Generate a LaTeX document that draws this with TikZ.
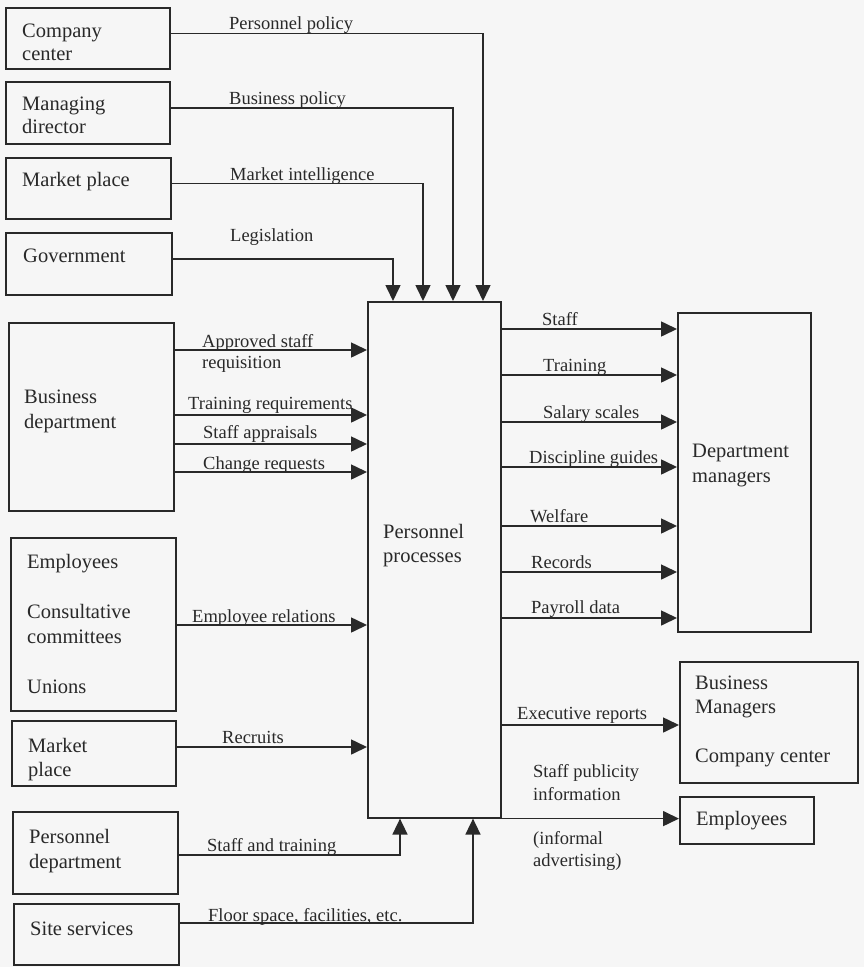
\documentclass[tikz,border=0pt]{standalone}
\usepackage{fontspec}
\setmainfont{Liberation Serif}
\usetikzlibrary{arrows.meta}
\definecolor{ink}{rgb}{0.16,0.16,0.16}
\definecolor{paper}{rgb}{0.965,0.965,0.965}
\tikzset{
  box/.style={draw=ink, line width=1.6pt, anchor=north west, inner sep=0pt},
  bt/.style={anchor=base west, inner sep=0pt, text=ink, font=\fontsize{20.5}{24}\selectfont},
  lt/.style={anchor=base west, inner sep=0pt, text=ink, font=\fontsize{18.5}{22}\selectfont},
  arr/.style={draw=ink, line width=1.6pt, -{Triangle[length=16pt,width=15pt]}},
}
\begin{document}
\begin{tikzpicture}[x=1pt,y=-1pt]
\fill[paper] (0,0) rectangle (864,967);
\useasboundingbox (0,0) rectangle (864,967);
% boxes
\node[box, minimum width=164pt, minimum height=61pt] (cc) at (5,7) {};
\node[box, minimum width=164pt, minimum height=62pt] (md) at (5,81) {};
\node[box, minimum width=165pt, minimum height=61pt] (mp) at (5,157) {};
\node[box, minimum width=166pt, minimum height=62pt] (gov) at (5,232) {};
\node[box, minimum width=165pt, minimum height=188pt] (bd) at (8,322) {};
\node[box, minimum width=165pt, minimum height=173pt] (emp) at (10,537) {};
\node[box, minimum width=164pt, minimum height=65pt] (mp2) at (11,720) {};
\node[box, minimum width=165pt, minimum height=82pt] (pd) at (12,811) {};
\node[box, minimum width=165pt, minimum height=61pt] (ss) at (13,903) {};
\node[box, minimum width=133pt, minimum height=516pt] (pp) at (367,301) {};
\node[box, minimum width=133pt, minimum height=319pt] (dm) at (677,312) {};
\node[box, minimum width=178pt, minimum height=121pt] (bm) at (679,661) {};
\node[box, minimum width=134pt, minimum height=47pt] (em) at (679,796) {};
% box texts
\node[bt] (tcc1) at (22,37) {Company};
\node[bt] (tcc2) at (22,60) {center};
\node[bt] (tmd1) at (22,110) {Managing};
\node[bt] (tmd2) at (22,133) {director};
\node[bt] (tmp) at (22,186) {Market place};
\node[bt] (tgov) at (23,262) {Government};
\node[bt] (tbd1) at (24,403) {Business};
\node[bt] (tbd2) at (24,428) {department};
\node[bt] (temp1) at (27,568) {Employees};
\node[bt] (temp2) at (27,618) {Consultative};
\node[bt] (temp3) at (27,643) {committees};
\node[bt] (temp4) at (27,693) {Unions};
\node[bt] (tmp21) at (28,752) {Market};
\node[bt] (tmp22) at (28,776) {place};
\node[bt] (tpd1) at (29,843) {Personnel};
\node[bt] (tpd2) at (29,868) {department};
\node[bt] (tss) at (30,935) {Site services};
\node[bt] (tpp1) at (383,538) {Personnel};
\node[bt] (tpp2) at (383,562) {processes};
\node[bt] (tdm1) at (692,457) {Department};
\node[bt] (tdm2) at (692,482) {managers};
\node[bt] (tbm1) at (695,689) {Business};
\node[bt] (tbm2) at (695,713) {Managers};
\node[bt] (tbm3) at (695,762) {Company center};
\node[bt] (tem) at (696,825) {Employees};
% top inputs
\draw[arr] ([yshift=5pt]cc.east) -| ([xshift=116pt]pp.north west);
\draw[arr] ([yshift=5pt]md.east) -| ([xshift=86pt]pp.north west);
\draw[arr] ([yshift=5pt]mp.east) -| ([xshift=56pt]pp.north west);
\draw[arr] ([yshift=5pt]gov.east) -| ([xshift=26pt]pp.north west);
\node[lt] (lpp) at (229,29) {Personnel policy};
\node[lt] (lbp) at (229,104) {Business policy};
\node[lt] (lmi) at (230,180) {Market intelligence};
\node[lt] (lleg) at (230,241) {Legislation};
% business department
\draw[arr] (bd.east |- 0,350) -- (pp.west |- 0,350);
\draw[arr] (bd.east |- 0,415) -- (pp.west |- 0,415);
\draw[arr] (bd.east |- 0,444) -- (pp.west |- 0,444);
\draw[arr] (bd.east |- 0,472) -- (pp.west |- 0,472);
\node[lt] (las1) at (202,347) {Approved staff};
\node[lt] (las2) at (202,368) {requisition};
\node[lt] (ltr) at (188,409) {Training requirements};
\node[lt] (lsa) at (203,438) {Staff appraisals};
\node[lt] (lcr) at (203,469) {Change requests};
% other left inputs
\draw[arr] (emp.east |- 0,625) -- (pp.west |- 0,625);
\node[lt] (ler) at (192,622) {Employee relations};
\draw[arr] (mp2.east |- 0,747) -- (pp.west |- 0,747);
\node[lt] (lrec) at (222,743) {Recruits};
\draw[arr] (pd.east |- 0,855) -| ([xshift=33pt]pp.south west);
\node[lt] (lst) at (207,851) {Staff and training};
\draw[arr] (ss.east |- 0,923) -| ([xshift=106pt]pp.south west);
\node[lt] (lfs) at (208,921) {Floor space, facilities, etc.};
% outputs
\draw[arr] (pp.east |- 0,329) -- (dm.west |- 0,329);
\draw[arr] (pp.east |- 0,375) -- (dm.west |- 0,375);
\draw[arr] (pp.east |- 0,422) -- (dm.west |- 0,422);
\draw[arr] (pp.east |- 0,467) -- (dm.west |- 0,467);
\draw[arr] (pp.east |- 0,526) -- (dm.west |- 0,526);
\draw[arr] (pp.east |- 0,572) -- (dm.west |- 0,572);
\draw[arr] (pp.east |- 0,618) -- (dm.west |- 0,618);
\node[lt] (lstaff) at (542,325) {Staff};
\node[lt] (ltrain) at (543,371) {Training};
\node[lt] (lsal) at (543,418) {Salary scales};
\node[lt] (ldis) at (529,463) {Discipline guides};
\node[lt] (lwel) at (530,522) {Welfare};
\node[lt] (lrecs) at (531,568) {Records};
\node[lt] (lpay) at (531,613) {Payroll data};
\draw[arr] (pp.east |- 0,725) -- (bm.west |- 0,725);
\node[lt] (lexe) at (517,719) {Executive reports};
\draw[arr] (pp.south east) -- (pp.south east -| em.west);
\node[lt] (lsp1) at (533,777) {Staff publicity};
\node[lt] (lsp2) at (533,800) {information};
\node[lt] (lsp3) at (533,844) {(informal};
\node[lt] (lsp4) at (533,866) {advertising)};
\end{tikzpicture}
\end{document}
